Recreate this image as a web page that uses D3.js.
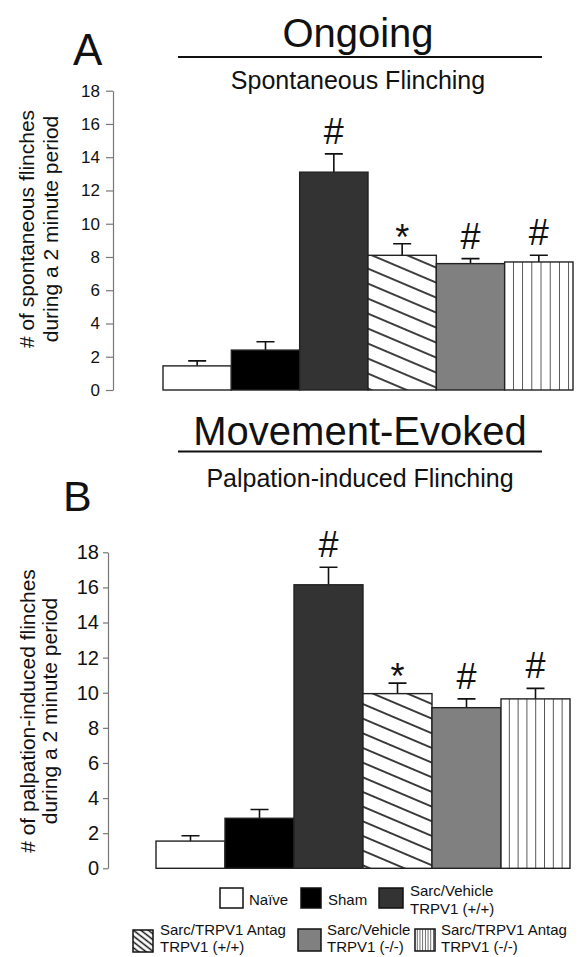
<!DOCTYPE html>
<html>
<head>
<meta charset="utf-8">
<script src="https://cdn.jsdelivr.net/npm/d3@7"></script>
<style>
  body { margin: 0; background: #fff; }
  text { font-family: "Liberation Sans", Arial, sans-serif; fill: #111; }
</style>
</head>
<body>
<div id="chart"></div>
<script>
// groups, in bar order
var groups = ["Naïve", "Sham", "Sarc/Vehicle TRPV1 (+/+)", "Sarc/TRPV1 Antag TRPV1 (+/+)",
              "Sarc/Vehicle TRPV1 (-/-)", "Sarc/TRPV1 Antag TRPV1 (-/-)"];

// A - ongoing, spontaneous flinching (mean, sem)
var ongoingMeans = [1.45, 2.4, 13.1, 8.1, 7.6, 7.7];
var ongoingErrors = [0.3, 0.5, 1.1, 0.7, 0.3, 0.4];

// B - movement-evoked, palpation-induced flinching (mean, sem)
var evokedMeans = [1.55, 2.85, 16.15, 9.95, 9.15, 9.65];
var evokedErrors = [0.3, 0.5, 1.0, 0.6, 0.5, 0.6];

var signif = ["", "", "#", "*", "#", "#"];
var yTicks = [0, 2, 4, 6, 8, 10, 12, 14, 16, 18];

var fills = ["#fff", "#000", "#333", "diag", "#808080", "vert"];

var svg = d3.select("#chart")
            .append("svg")
            .attr("width", 583)
            .attr("height", 957);

var defs = svg.append("defs");

function diagPattern(id, x, gap, angle, w) {
	var p = defs.append("pattern")
				.attr("id", id)
				.attr("patternUnits", "userSpaceOnUse")
				.attr("x", x)
				.attr("width", 20)
				.attr("height", gap)
				.attr("patternTransform", "rotate(" + angle + ")");
	p.append("rect").attr("width", 20).attr("height", gap).attr("fill", "#fff");
	p.append("line")
	 .attr("x1", 0).attr("x2", 20)
	 .attr("y1", gap / 2).attr("y2", gap / 2)
	 .attr("stroke", "#111")
	 .attr("stroke-width", w);
}

function vertPattern(id, x, gap, w) {
	var p = defs.append("pattern")
				.attr("id", id)
				.attr("patternUnits", "userSpaceOnUse")
				.attr("x", x)
				.attr("width", gap)
				.attr("height", 20);
	p.append("rect").attr("width", gap).attr("height", 20).attr("fill", "#fff");
	p.append("line")
	 .attr("x1", gap).attr("x2", gap)
	 .attr("y1", 0).attr("y2", 20)
	 .attr("stroke", "#111")
	 .attr("stroke-width", w);
}

function fillFor(i, panel) {
	var f = fills[i];
	if (f == "diag" || f == "vert") return "url(#" + f + "-" + panel + ")";
	return f;
}

function drawPanel(cfg) {
	var g = svg.append("g");

	var x = d3.scaleBand()
			  .domain(groups)
			  .range([cfg.left, cfg.right])
			  .padding(0);

	var y = d3.scaleLinear()
			  .domain([0, 18])
			  .range([cfg.bottom, cfg.top]);

	diagPattern("diag-" + cfg.id, x(groups[3]), cfg.diagGap, 23, 1.6);
	vertPattern("vert-" + cfg.id, x(groups[5]), cfg.vertGap, 1.4);

	// titles
	g.append("text")
	 .attr("x", cfg.letterX).attr("y", cfg.letterY)
	 .attr("font-size", cfg.letterSize)
	 .text(cfg.letter);

	g.append("text")
	 .attr("x", cfg.titleX).attr("y", cfg.titleY)
	 .attr("text-anchor", "middle")
	 .attr("font-size", 40)
	 .text(cfg.title);

	g.append("line")
	 .attr("x1", 178).attr("x2", 542)
	 .attr("y1", cfg.ruleY).attr("y2", cfg.ruleY)
	 .attr("stroke", "#111")
	 .attr("stroke-width", 2.2);

	g.append("text")
	 .attr("x", cfg.titleX).attr("y", cfg.subY)
	 .attr("text-anchor", "middle")
	 .attr("font-size", 25)
	 .text(cfg.subtitle);

	// y axis
	var axis = g.append("g")
				.attr("transform", "translate(" + cfg.axisX + ",0)")
				.call(d3.axisLeft(y)
						.tickValues(yTicks)
						.tickSize(cfg.tickSize)
						.tickSizeOuter(0)
						.tickPadding(cfg.tickPad));
	axis.attr("font-family", null).attr("font-size", null);
	axis.select(".domain").attr("stroke", "#777").attr("stroke-width", 1.2);
	axis.selectAll(".tick line").attr("stroke", "#777").attr("stroke-width", 1.2);
	axis.selectAll(".tick text").attr("font-size", cfg.tickFont).attr("fill", "#111");

	var lab = g.append("text")
			   .attr("transform", "translate(0," + cfg.labelY + ") rotate(-90)")
			   .attr("text-anchor", "middle")
			   .attr("font-size", 21);
	lab.append("tspan").attr("x", 0).attr("y", cfg.labelX1).text(cfg.label1);
	lab.append("tspan").attr("x", 0).attr("y", cfg.labelX2).text(cfg.label2);

	// error bars
	g.selectAll(".err")
	 .data(cfg.means)
	 .enter()
	 .append("path")
	 .attr("class", "err")
	 .attr("d", function (d, i) {
	 	var cx = x(groups[i]) + x.bandwidth() / 2;
	 	var top = y(d + cfg.errors[i]);
	 	return "M" + cx + "," + y(d) + "V" + top + "M" + (cx - cfg.capW / 2) + "," + top + "H" + (cx + cfg.capW / 2);
	 })
	 .attr("stroke", "#111")
	 .attr("stroke-width", 1.6)
	 .attr("fill", "none");

	// bars
	g.selectAll(".bar")
	 .data(cfg.means)
	 .enter()
	 .append("rect")
	 .attr("class", "bar")
	 .attr("x", function (d, i) { return x(groups[i]); })
	 .attr("y", function (d) { return y(d); })
	 .attr("width", x.bandwidth())
	 .attr("height", function (d) { return y(0) - y(d); })
	 .attr("fill", function (d, i) { return fillFor(i, cfg.id); })
	 .attr("stroke", "#222")
	 .attr("stroke-width", 1.4);

	// significance marks
	g.selectAll(".sig")
	 .data(cfg.means)
	 .enter()
	 .append("text")
	 .attr("class", "sig")
	 .attr("x", function (d, i) { return x(groups[i]) + x.bandwidth() / 2; })
	 .attr("y", function (d, i) {
	 	var top = y(d + cfg.errors[i]);
	 	return signif[i] == "*" ? top + 6 : top - 10;
	 })
	 .attr("text-anchor", "middle")
	 .attr("font-size", 36)
	 .text(function (d, i) { return signif[i]; });
}

drawPanel({
	id: "A", means: ongoingMeans, errors: ongoingErrors,
	left: 163, right: 573, top: 90.7, bottom: 390,
	axisX: 113, tickSize: 7, tickPad: 6, tickFont: 17,
	letter: "A", letterX: 73, letterY: 65, letterSize: 44,
	title: "Ongoing", titleX: 358, titleY: 47, ruleY: 57,
	subtitle: "Spontaneous Flinching", subY: 89,
	label1: "# of spontaneous flinches", label2: "during a 2 minute period",
	labelY: 229, labelX1: 34, labelX2: 58,
	capW: 18, diagGap: 13.8, vertGap: 9.2
});

drawPanel({
	id: "B", means: evokedMeans, errors: evokedErrors,
	left: 156, right: 570, top: 552.3, bottom: 868.3,
	axisX: 108, tickSize: 5, tickPad: 4, tickFont: 20,
	letter: "B", letterX: 63, letterY: 511, letterSize: 43,
	title: "Movement-Evoked", titleX: 360, titleY: 445, ruleY: 451.5,
	subtitle: "Palpation-induced Flinching", subY: 487,
	label1: "# of palpation-induced flinches", label2: "during a 2 minute period",
	labelY: 711, labelX1: 35, labelX2: 57,
	capW: 18, diagGap: 13.5, vertGap: 8.8
});

// legend
diagPattern("diag-L", 0, 4.6, 38, 1.5);
vertPattern("vert-L", 415, 2.7, 1.2);

var legendItems = [
	{ i: 0, x: 220, y: 888, w: 23, h: 20, lines: ["Naïve"], tx: 249, ty: [905] },
	{ i: 1, x: 301, y: 888, w: 20, h: 20, lines: ["Sham"], tx: 328, ty: [905] },
	{ i: 2, x: 379, y: 888, w: 24, h: 20, lines: ["Sarc/Vehicle", "TRPV1 (+/+)"], tx: 410, ty: [896, 914] },
	{ i: 3, x: 133, y: 930, w: 20, h: 22, lines: ["Sarc/TRPV1 Antag", "TRPV1 (+/+)"], tx: 160, ty: [934.5, 951.5] },
	{ i: 4, x: 298, y: 929, w: 23, h: 22, lines: ["Sarc/Vehicle", "TRPV1 (-/-)"], tx: 327, ty: [934.5, 951.5] },
	{ i: 5, x: 415, y: 929, w: 20, h: 22, lines: ["Sarc/TRPV1 Antag", "TRPV1 (-/-)"], tx: 441, ty: [934.5, 951.5] }
];

var legend = svg.append("g");

var item = legend.selectAll(".item")
				 .data(legendItems)
				 .enter()
				 .append("g")
				 .attr("class", "item");

item.append("rect")
	.attr("x", function (d) { return d.x; })
	.attr("y", function (d) { return d.y; })
	.attr("width", function (d) { return d.w; })
	.attr("height", function (d) { return d.h; })
	.attr("fill", function (d) { return fillFor(d.i, "L"); })
	.attr("stroke", "#111")
	.attr("stroke-width", 1.5);

item.each(function (d) {
	var el = d3.select(this);
	d.lines.forEach(function (s, k) {
		el.append("text")
		  .attr("x", d.tx)
		  .attr("y", d.ty[k])
		  .attr("font-size", 15)
		  .text(s);
	});
});
</script>
</body>
</html>
